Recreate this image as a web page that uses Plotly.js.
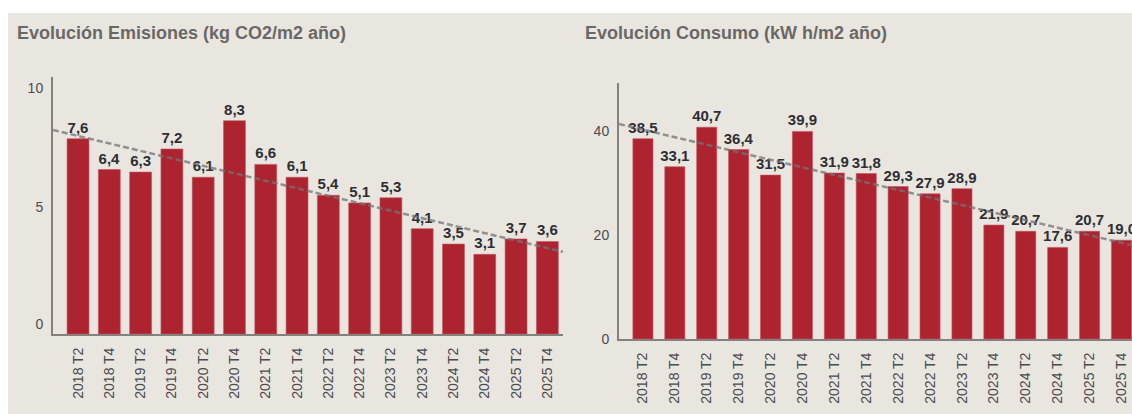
<!DOCTYPE html>
<html>
<head>
<meta charset="utf-8">
<script src="https://cdn.plot.ly/plotly-3.0.1.min.js"></script>
<style>html,body{margin:0;padding:0;background:#fff;}#chart{width:1132px;height:414px;}</style>
</head>
<body>
<div id="chart"></div>
<script>
const categories = ['2018 T2','2018 T4','2019 T2','2019 T4','2020 T2','2020 T4','2021 T2','2021 T4','2022 T2','2022 T4','2023 T2','2023 T4','2024 T2','2024 T4','2025 T2','2025 T4'];
const emisiones = [7.6, 6.4, 6.3, 7.2, 6.1, 8.3, 6.6, 6.1, 5.4, 5.1, 5.3, 4.1, 3.5, 3.1, 3.7, 3.6];
const consumo = [38.5, 33.1, 40.7, 36.4, 31.5, 39.9, 31.9, 31.8, 29.3, 27.9, 28.9, 21.9, 20.7, 17.6, 20.7, 19.0];
const titleEmisiones = 'Evolución Emisiones (kg CO2/m2 año)';
const titleConsumo = 'Evolución Consumo (kW h/m2 año)';

const idx = categories.map((_, i) => i);

function regression(ys) {
  const n = ys.length;
  const mx = idx.reduce((a, b) => a + b, 0) / n;
  const my = ys.reduce((a, b) => a + b, 0) / n;
  let sxy = 0, sxx = 0;
  ys.forEach((y, i) => { sxy += (i - mx) * (y - my); sxx += (i - mx) * (i - mx); });
  const slope = sxy / sxx;
  return x => my + slope * (x - mx);
}

const xr1 = [-0.8, 15.5];
const xr2 = [-0.75, 15.33];
const f1 = regression(emisiones);
const f2 = regression(consumo);

const barColor = '#ae2330';
const labelFont = {family: 'Liberation Sans, Arial, sans-serif', size: 15, color: '#2e2e33', weight: 'bold'};

const traces = [
  {type: 'bar', x: idx, y: emisiones, xaxis: 'x', yaxis: 'y', width: 0.7,
   marker: {color: barColor, line: {color: '#c25560', width: 0.6}},
   texttemplate: '<b>%{y:.1f}</b>', textposition: 'outside', constraintext: 'none',
   textfont: labelFont, hoverinfo: 'skip', cliponaxis: true},
  {type: 'bar', x: idx, y: consumo, xaxis: 'x2', yaxis: 'y2', width: 0.63,
   marker: {color: barColor, line: {color: '#c25560', width: 0.6}},
   texttemplate: '<b>%{y:.1f}</b>', textposition: 'outside', constraintext: 'none',
   textfont: labelFont, hoverinfo: 'skip', cliponaxis: true},
  {type: 'scatter', mode: 'lines', x: xr1, y: xr1.map(f1), xaxis: 'x', yaxis: 'y',
   line: {color: 'rgba(115,115,115,0.75)', width: 2.5, dash: '6px,3px'}, hoverinfo: 'skip'},
  {type: 'scatter', mode: 'lines', x: xr2, y: xr2.map(f2), xaxis: 'x2', yaxis: 'y2',
   line: {color: 'rgba(115,115,115,0.75)', width: 2.5, dash: '6px,3px'}, hoverinfo: 'skip'}
];

const tickFont = {family: 'Liberation Sans, Arial, sans-serif', size: 14, color: '#4a4a4f'};
const xTickFont = {family: 'Liberation Sans, Arial, sans-serif', size: 14, color: '#4a4a4f'};
const axisLine = '#85807c';

const layout = {
  width: 1132, height: 414,
  margin: {l: 0, r: 0, t: 0, b: 0},
  paper_bgcolor: '#ffffff',
  plot_bgcolor: 'rgba(0,0,0,0)',
  separators: ',.',
  showlegend: false,
  bargap: 0.3,
  xaxis: {domain: [53/1132, 563/1132], range: xr1, anchor: 'y',
    tickmode: 'array', tickvals: idx, ticktext: categories, tickangle: -90,
    showline: true, linecolor: axisLine, linewidth: 2, showgrid: false, zeroline: false,
    ticks: '', tickfont: xTickFont, ticklabelstandoff: 6, fixedrange: true},
  yaxis: {domain: [(414-334)/414, (414-77)/414], range: [0, 10], anchor: 'x',
    tickmode: 'array', tickvals: [0.4, 4.95, 9.55], ticktext: ['0', '5', '10'],
    showline: true, linecolor: axisLine, linewidth: 2, showgrid: false, zeroline: false,
    ticks: '', tickfont: tickFont, ticklabelstandoff: 5, fixedrange: true},
  xaxis2: {domain: [619/1132, 1], range: xr2, anchor: 'y2',
    tickmode: 'array', tickvals: idx, ticktext: categories, tickangle: -90,
    showline: true, linecolor: axisLine, linewidth: 2, showgrid: false, zeroline: false,
    ticks: '', tickfont: xTickFont, ticklabelstandoff: 6, fixedrange: true},
  yaxis2: {domain: [(414-339)/414, (414-83)/414], range: [0, 49.2], anchor: 'x2',
    tickmode: 'array', tickvals: [0, 20, 40], ticktext: ['0', '20', '40'],
    showline: true, linecolor: axisLine, linewidth: 2, showgrid: false, zeroline: false,
    ticks: '', tickfont: tickFont, ticklabelstandoff: 5, fixedrange: true},
  shapes: [
    {type: 'rect', xref: 'paper', yref: 'paper', x0: 8/1132, x1: 1, y0: 0, y1: (414-13)/414,
     fillcolor: '#e9e6e0', line: {width: 0}, layer: 'below'}
  ],
  annotations: [
    {xref: 'paper', yref: 'paper', x: 15/1132, y: (414-33)/414, xanchor: 'left', yanchor: 'middle',
     text: '<b>' + titleEmisiones + '</b>', showarrow: false,
     font: {family: 'Liberation Sans, Arial, sans-serif', size: 18, color: '#6a6866'}},
    {xref: 'paper', yref: 'paper', x: 583/1132, y: (414-33)/414, xanchor: 'left', yanchor: 'middle',
     text: '<b>' + titleConsumo + '</b>', showarrow: false,
     font: {family: 'Liberation Sans, Arial, sans-serif', size: 18, color: '#6a6866'}}
  ]
};

Plotly.newPlot('chart', traces, layout, {displayModeBar: false, staticPlot: true});
</script>
</body>
</html>
